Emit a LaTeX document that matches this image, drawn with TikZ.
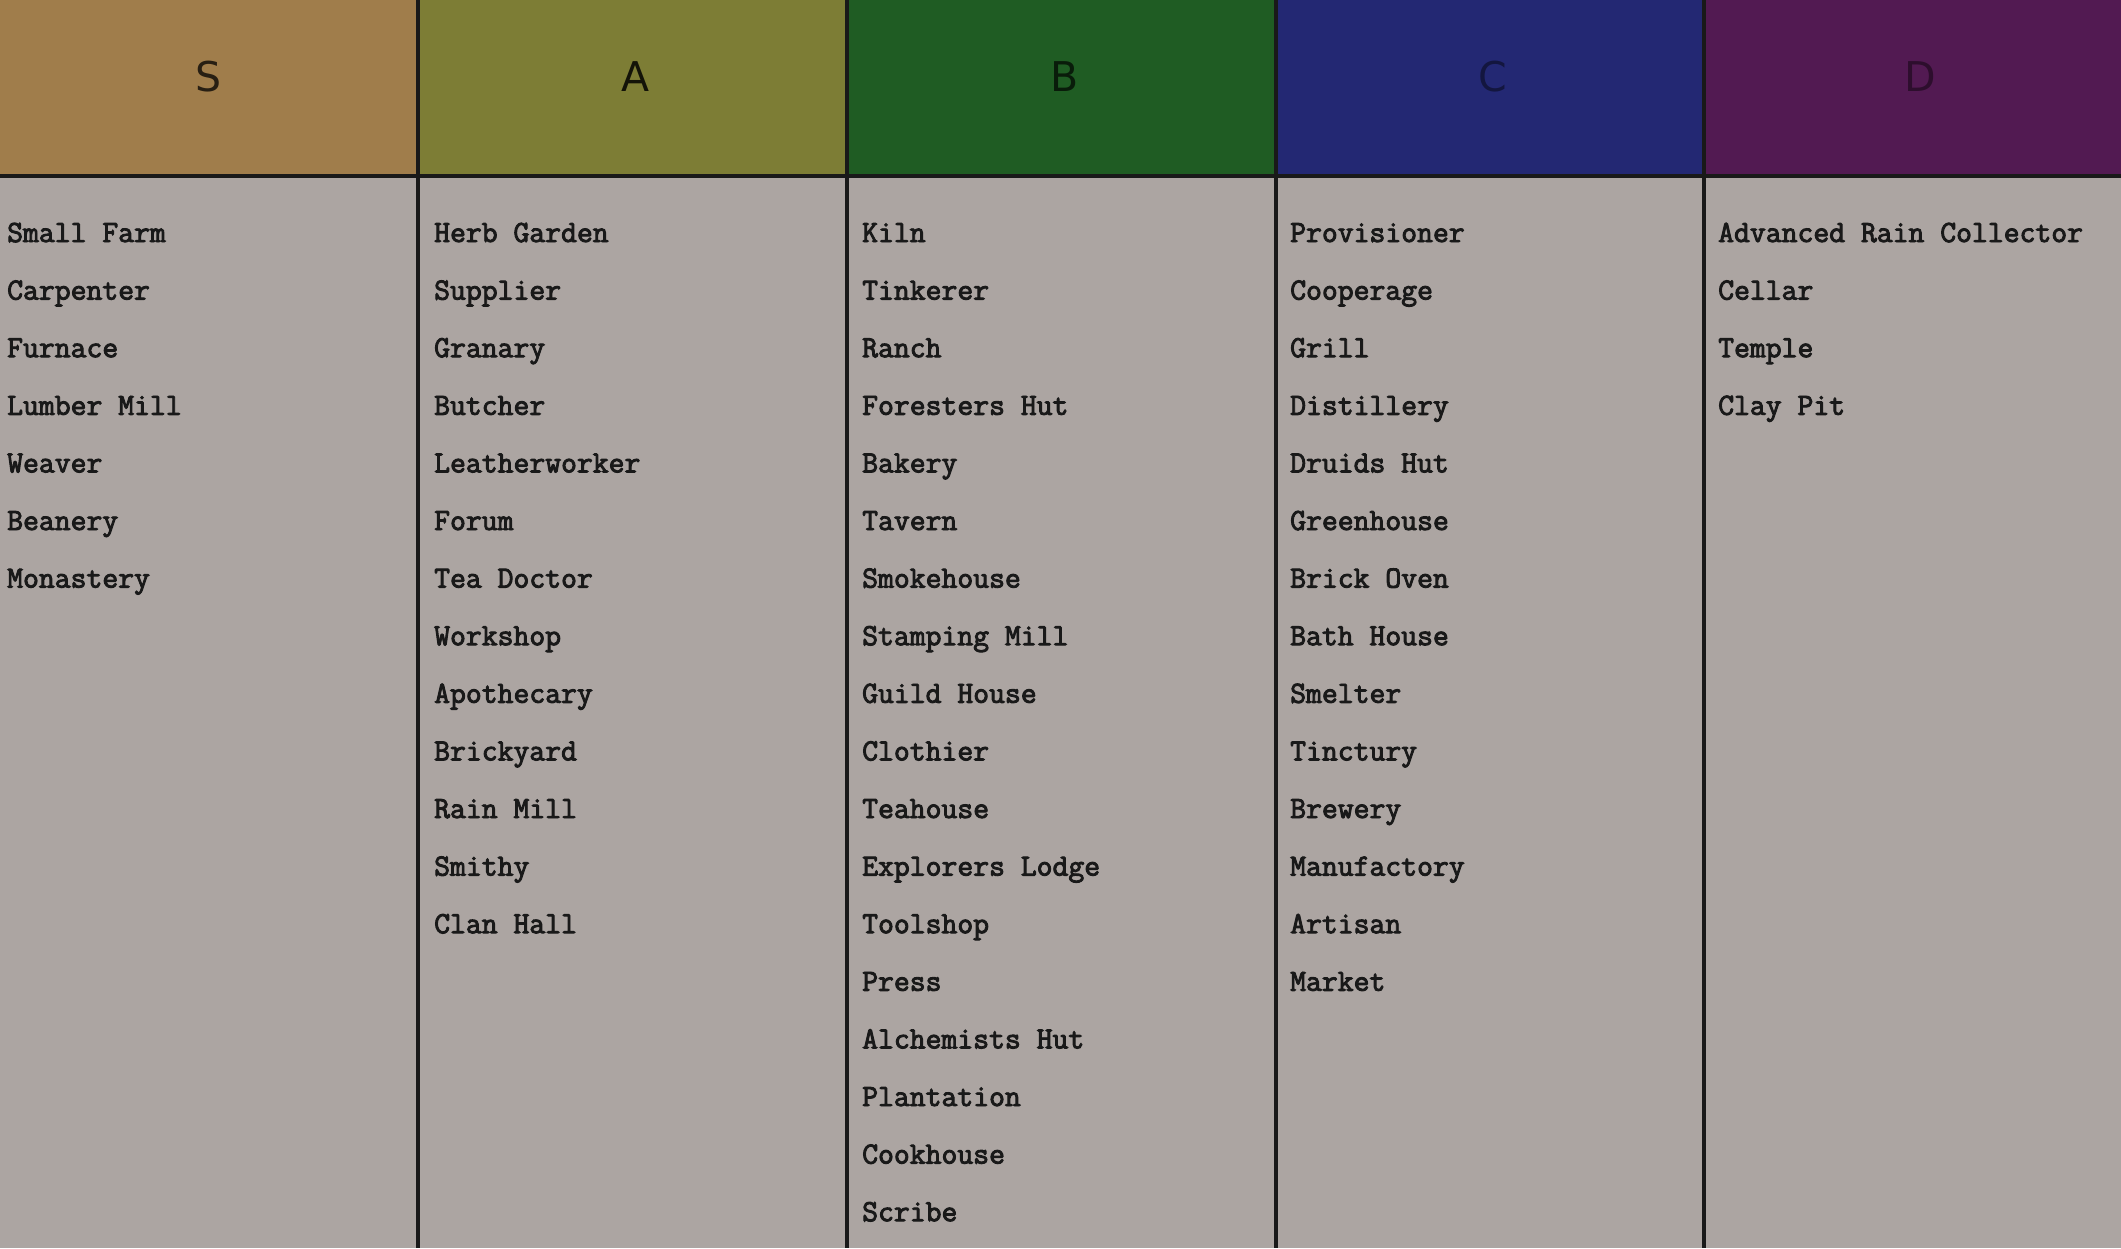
\documentclass[tikz,border=0pt]{standalone}
\usepackage{fontspec}
\newfontfamily\headfont{DejaVu Sans}
\newfontfamily\itemfont{Latin Modern Mono}[FakeBold=3]
\definecolor{bodygray}{HTML}{ACA5A2}
\definecolor{colS}{HTML}{A07D4B}
\definecolor{colA}{HTML}{7D7D35}
\definecolor{colB}{HTML}{1F5C23}
\definecolor{colC}{HTML}{232873}
\definecolor{colD}{HTML}{521A52}
\tikzset{
  item/.style={anchor=base west, inner sep=0pt, font=\itemfont\fontsize{30.8}{33}\selectfont, text=black!90},
  head/.style={anchor=base, inner sep=0pt, font=\headfont\fontsize{41}{44}\selectfont},
  divider/.style={line width=4pt, black!90},
}
\begin{document}
\begin{tikzpicture}[x=1pt,y=-1pt]
\useasboundingbox (0,0) rectangle (2121,1248);
\fill[bodygray] (0,0) rectangle (2121,1248);
% headers
\fill[colS] (0,0) rectangle (418,176);
\fill[colA] (418,0) rectangle (847,176);
\fill[colB] (847,0) rectangle (1276,176);
\fill[colC] (1276,0) rectangle (1704,176);
\fill[colD] (1704,0) rectangle (2121,176);
\node[head, text=colS!25!black] (hS) at (209,91) {S};
\node[head, text=colA!15!black] (hA) at (636,91) {A};
\node[head, text=colB!30!black] (hB) at (1065,91) {B};
\node[head, text=colC!55!black] (hC) at (1493,91) {C};
\node[head, text=colD!55!black] (hD) at (1920,91) {D};
% lines
\draw[divider] (0,176) -- (2121,176);
\foreach \x in {418,847,1276,1704} \draw[divider] (\x,0) -- (\x,1248);
% items
\foreach \t [count=\i] in {Small Farm,Carpenter,Furnace,Lumber Mill,Weaver,Beanery,Monastery}
  \node[item] (s\i) at (7,{242+57.6*(\i-1)}) {\t};
\foreach \t [count=\i] in {Herb Garden,Supplier,Granary,Butcher,Leatherworker,Forum,Tea Doctor,Workshop,Apothecary,Brickyard,Rain Mill,Smithy,Clan Hall}
  \node[item] (a\i) at (434,{242+57.6*(\i-1)}) {\t};
\foreach \t [count=\i] in {Kiln,Tinkerer,Ranch,Foresters Hut,Bakery,Tavern,Smokehouse,Stamping Mill,Guild House,Clothier,Teahouse,Explorers Lodge,Toolshop,Press,Alchemists Hut,Plantation,Cookhouse,Scribe}
  \node[item] (b\i) at (862,{242+57.6*(\i-1)}) {\t};
\foreach \t [count=\i] in {Provisioner,Cooperage,Grill,Distillery,Druids Hut,Greenhouse,Brick Oven,Bath House,Smelter,Tinctury,Brewery,Manufactory,Artisan,Market}
  \node[item] (c\i) at (1290,{242+57.6*(\i-1)}) {\t};
\foreach \t [count=\i] in {Advanced Rain Collector,Cellar,Temple,Clay Pit}
  \node[item] (d\i) at (1718,{242+57.6*(\i-1)}) {\t};
\end{tikzpicture}
\end{document}
